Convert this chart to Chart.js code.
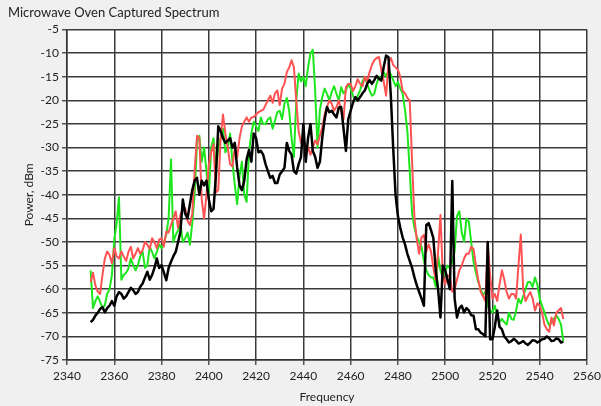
<!DOCTYPE html>
<html>
<head>
<meta charset="utf-8">
<script src="https://cdn.jsdelivr.net/npm/chart.js@4"></script>
<style>
  html, body { margin: 0; padding: 0; background: #f0f0f0; }
  #wrap { width: 601px; height: 406px; }
</style>
</head>
<body>
<div id="wrap"><canvas id="spectrum" width="601" height="406"></canvas></div>
<script>
// frequency axis (MHz), one sample per MHz
const freqs = [
  2350, 2351, 2352, 2353, 2354, 2355, 2356, 2357, 2358, 2359,
  2360, 2361, 2362, 2363, 2364, 2365, 2366, 2367, 2368, 2369,
  2370, 2371, 2372, 2373, 2374, 2375, 2376, 2377, 2378, 2379,
  2380, 2381, 2382, 2383, 2384, 2385, 2386, 2387, 2388, 2389,
  2390, 2391, 2392, 2393, 2394, 2395, 2396, 2397, 2398, 2399,
  2400, 2401, 2402, 2403, 2404, 2405, 2406, 2407, 2408, 2409,
  2410, 2411, 2412, 2413, 2414, 2415, 2416, 2417, 2418, 2419,
  2420, 2421, 2422, 2423, 2424, 2425, 2426, 2427, 2428, 2429,
  2430, 2431, 2432, 2433, 2434, 2435, 2436, 2437, 2438, 2439,
  2440, 2441, 2442, 2443, 2444, 2445, 2446, 2447, 2448, 2449,
  2450, 2451, 2452, 2453, 2454, 2455, 2456, 2457, 2458, 2459,
  2460, 2461, 2462, 2463, 2464, 2465, 2466, 2467, 2468, 2469,
  2470, 2471, 2472, 2473, 2474, 2475, 2476, 2477, 2478, 2479,
  2480, 2481, 2482, 2483, 2484, 2485, 2486, 2487, 2488, 2489,
  2490, 2491, 2492, 2493, 2494, 2495, 2496, 2497, 2498, 2499,
  2500, 2501, 2502, 2503, 2504, 2505, 2506, 2507, 2508, 2509,
  2510, 2511, 2512, 2513, 2514, 2515, 2516, 2517, 2518, 2519,
  2520, 2521, 2522, 2523, 2524, 2525, 2526, 2527, 2528, 2529,
  2530, 2531, 2532, 2533, 2534, 2535, 2536, 2537, 2538, 2539,
  2540, 2541, 2542, 2543, 2544, 2545, 2546, 2547, 2548, 2549,
  2550
];

// captured power, dBm
const greenTrace = [
  -56, -64, -62.5, -61.5, -62.7, -64, -63.4, -61, -60, -57,
  -49.5, -46, -40.5, -58, -57, -56.5, -55.6, -53.5, -54.9, -56,
  -54.9, -53, -52.1, -55.5, -54.9, -51, -52.1, -53.5, -52.1, -50.5,
  -51.3, -50, -48.5, -45, -32.5, -50, -48.5, -47.5, -46.4, -50,
  -49.2, -48, -50.6, -46, -40, -29, -27.5, -33, -30, -35,
  -40, -30, -28, -35, -30, -28, -26, -31, -30, -27,
  -33, -38, -42, -36, -33, -40, -41.5, -31, -27, -24.5,
  -25.5, -26.5, -23.6, -25, -25, -24, -23.6, -26, -24.3, -22.5,
  -22.2, -24, -20.7, -19.5, -22.2, -28, -32, -20, -14.3, -16,
  -15, -17, -13, -10, -9.3, -18, -30, -22, -19.3, -17.5,
  -18.6, -20, -18.2, -17, -18.6, -20, -17.2, -18.5, -17.9, -16.5,
  -17.5, -19, -20, -19, -17.9, -16, -15, -16.5, -17.9, -19,
  -18.6, -16.5, -15, -15.5, -14, -15, -13.6, -14.5, -15.7, -17,
  -16.1, -17.5, -18.5, -22, -26.5, -35, -44, -47, -49, -50,
  -51, -54, -56, -57, -57.5, -57.5, -59.5, -53, -56, -57.5,
  -56.3, -55, -55.6, -54, -52, -44.5, -43.5, -48, -49.9, -45,
  -45.7, -50, -54.2, -56.5, -58.5, -60, -61.3, -60.5, -63.5, -64.5,
  -64.9, -63.5, -65.6, -67, -66.3, -67, -67.5, -65, -66.3, -66.5,
  -64.5, -62, -63, -61.5, -60, -58.5, -58.5, -59.5, -57.5, -59,
  -62, -63.5, -64.9, -66.5, -67.7, -67, -66.3, -65.5, -66.3, -67.5,
  -71
];

const redTrace = [
  -58.5, -56.5, -59.2, -60.5, -61, -57, -53.5, -52, -52.8, -54.5,
  -51.3, -53, -53.5, -52, -53.1, -54, -52.1, -51, -53.5, -52.5,
  -51.3, -52.5, -51.7, -50, -50.6, -51.5, -49.2, -50, -51.3, -49.5,
  -49.2, -51, -47.8, -48, -46.4, -45, -43.5, -47, -44.2, -43,
  -42.8, -45.5, -46.4, -44, -35, -27.5, -28, -41, -45, -40,
  -33.5, -31, -29.3, -39.5, -39, -28, -23, -27, -30, -33.5,
  -34, -30, -32, -28, -25.5, -24.5, -23.6, -24.5, -23.6, -23.5,
  -23, -22.5, -22.2, -22, -21, -20, -19, -20.5, -18.5, -17.9,
  -21, -17.5, -16.5, -14, -13, -11.5, -13, -20, -26.5, -29,
  -28.6, -29.5, -30, -31.5, -30, -28.5, -29.3, -27.5, -25.7, -23,
  -21.4, -20, -20.7, -22.2, -21.4, -20, -22.2, -24, -17.2, -16.5,
  -16.5, -18, -17, -15.5, -16.5, -17, -15, -16, -14, -12.5,
  -11.5, -11, -10.8, -13.5, -16, -19, -12.2, -11, -12.5, -13,
  -13.5, -15, -18, -18.5, -19.5, -20, -33, -45, -49.5, -52.5,
  -49, -48.5, -52, -50.5, -52, -55.5, -58, -52, -44.3, -57,
  -59, -57, -57.5, -60.5, -60, -58, -56, -55, -53.5, -52.5,
  -52.5, -51, -51.5, -55, -58, -60.5, -61.5, -62.5, -50.3, -57,
  -62, -61, -62.5, -59, -56, -58, -60.6, -62, -61, -61,
  -62, -55, -48.4, -60, -62.5, -61.5, -60.6, -62, -64.5, -63,
  -63.5, -65, -67.5, -68.5, -69, -66, -67.7, -65, -64.5, -64,
  -66.3
];

const blackTrace = [
  -67, -66.5, -65.6, -65, -64.2, -63.8, -64.9, -64, -63.5, -62.5,
  -63.5, -61.5, -60.6, -61, -62, -61.5, -60.6, -59.7, -60.2, -61,
  -60.6, -59.5, -58.8, -57.5, -56.3, -58, -57, -55.5, -53.5, -55.5,
  -54.9, -56.5, -58.1, -55.5, -54.2, -53, -52.1, -50, -47.8, -41,
  -44, -45, -42, -39, -37, -36.4, -40, -37, -38, -37,
  -41, -43.5, -43, -36, -25.5, -26.5, -28, -29, -28.5, -28,
  -30, -29, -34.3, -38, -39, -37, -32.5, -30.5, -33, -27,
  -28, -31, -30.7, -31.5, -33.5, -35, -36.4, -36, -37.5, -37.5,
  -35.7, -35, -34.3, -29, -30.7, -31.5, -35, -35.5, -33.5, -32,
  -25, -33, -27.9, -25, -30.7, -32, -34.3, -33, -27.9, -24,
  -21.4, -22.5, -22.2, -23, -23.6, -21.5, -21.4, -26, -30.7, -24,
  -22.2, -20.5, -19.3, -20, -19.3, -18.5, -17.9, -16.5, -15.7, -16.5,
  -15.7, -14.8, -15.4, -15.8, -12.9, -10.5, -10.8, -19, -30, -40,
  -44.5, -47, -49, -50.5, -52.5, -54, -55.5, -57.5, -59.2, -60.6,
  -62, -63.5, -46.4, -46, -47.5, -49.2, -56, -60, -66, -55,
  -56, -58, -60, -37.1, -62, -66, -64, -63.5, -64.9, -64,
  -64.5, -65.5, -65.6, -68.5, -68.5, -69.2, -69.5, -70, -50, -70.6,
  -70.6, -68, -64.5, -68, -68.5, -70, -70.6, -71.3, -71, -70.5,
  -70.9, -71.5, -71.3, -71, -71.5, -71.8, -71.3, -70.8, -70.9, -71.3,
  -71, -70.6, -70.5, -70, -70.4, -71, -70.9, -70.4, -70.6, -71.3,
  -71.1
];

const toPoints = arr => arr.map((v, i) => ({ x: freqs[i], y: v }));

// white plot background
const plotBackground = {
  id: 'plotBackground',
  beforeDraw(chart) {
    const { ctx, chartArea } = chart;
    ctx.save();
    ctx.fillStyle = '#ffffff';
    ctx.fillRect(chartArea.left, chartArea.top, chartArea.right - chartArea.left, chartArea.bottom - chartArea.top);
    ctx.restore();
  }
};

const fontFamily = 'Lato';

new Chart(document.getElementById('spectrum'), {
  type: 'line',
  data: {
    datasets: [
      { label: 'Trace 3', data: toPoints(blackTrace), borderColor: '#000000', borderWidth: 2.5 },
      { label: 'Trace 2', data: toPoints(redTrace), borderColor: '#ff5252', borderWidth: 2 },
      { label: 'Trace 1', data: toPoints(greenTrace), borderColor: '#1ee61e', borderWidth: 2 }
    ]
  },
  options: {
    responsive: false,
    animation: false,
    elements: {
      point: { radius: 0 },
      line: { tension: 0, borderJoinStyle: 'round' }
    },
    layout: { padding: { left: 8, right: 14, top: 0, bottom: 0 } },
    plugins: {
      legend: { display: false },
      tooltip: { enabled: false },
      title: {
        display: true,
        text: 'Microwave Oven Captured Spectrum',
        align: 'start',
        color: '#222222',
        font: { family: fontFamily, size: 13, weight: 'normal' },
        padding: { top: 5, bottom: 9 }
      }
    },
    scales: {
      x: {
        type: 'linear',
        min: 2340,
        max: 2560,
        ticks: {
          stepSize: 20,
          color: '#222222',
          padding: 4,
          maxRotation: 0,
          font: { family: fontFamily, size: 12 },
          callback: v => String(v)
        },
        grid: { color: '#3a3a3a', lineWidth: 1.5, tickLength: 5, tickColor: '#555555' },
        border: { display: true, color: '#333333', width: 1.5 },
        title: {
          display: true,
          text: 'Frequency',
          color: '#222222',
          font: { family: fontFamily, size: 12 },
          padding: { top: 0, bottom: 2 }
        },
        afterFit(scale) {
          scale.height = 46;
          scale.paddingLeft = 0;
          scale.paddingRight = 0;
        }
      },
      y: {
        min: -75,
        max: -5,
        ticks: {
          stepSize: 5,
          color: '#222222',
          padding: 3,
          font: { family: fontFamily, size: 12 },
          callback: v => String(v)
        },
        grid: { color: '#3a3a3a', lineWidth: 1.5, tickLength: 5, tickColor: '#555555' },
        border: { display: true, color: '#333333', width: 1.5 },
        title: {
          display: true,
          text: 'Power, dBm',
          color: '#222222',
          font: { family: fontFamily, size: 12 },
          padding: { top: 14, bottom: 0 }
        },
        afterFit(scale) {
          scale.width = 59;
          scale.paddingTop = 0;
          scale.paddingBottom = 0;
        }
      }
    }
  },
  plugins: [plotBackground]
});
</script>
</body>
</html>
